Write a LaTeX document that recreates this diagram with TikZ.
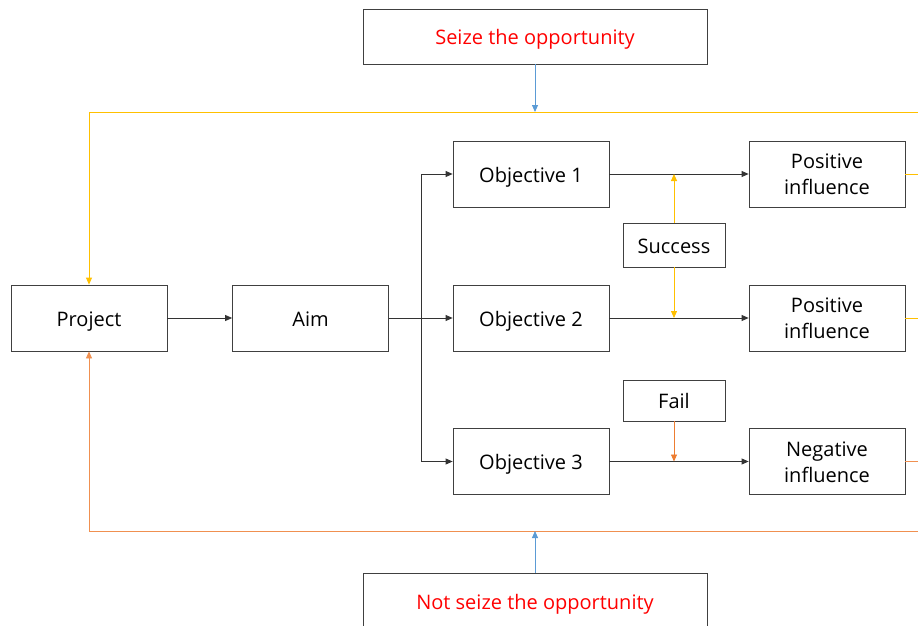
\documentclass[tikz,border=0pt]{standalone}
\usepackage{fontspec}
\setmainfont{Open Sans}
\usetikzlibrary{arrows.meta}
\definecolor{yel}{HTML}{FFC000}
\definecolor{org}{HTML}{ED7D31}
\definecolor{blu}{HTML}{5B9BD5}
\definecolor{bord}{HTML}{404040}
\definecolor{txtred}{HTML}{FF0000}
\newcommand{\twoline}[2]{\raisebox{0pt}[\dimexpr\height+5pt\relax][\depth]{\begin{tabular}{@{}c@{}}#1\\#2\end{tabular}}}
\begin{document}
\begin{tikzpicture}[x=1pt,y=-1pt,
  box/.style={draw=bord, line width=0.8pt, minimum width=156pt, minimum height=66pt, align=center, inner sep=0pt, font=\fontsize{20}{26}\selectfont},
  one/.style={text height=16.5pt, text depth=0pt},
  sbox/.style={box, one, minimum width=102pt},
  bigbox/.style={box, one, minimum width=344pt, text=txtred},
  tip/.style={-{Triangle[length=7pt,width=6pt]}},
  blk/.style={tip, draw=black!80, line width=0.8pt},
  yl/.style={draw=yel, line width=0.8pt},
  ol/.style={draw=org!85, line width=0.8pt},
  ]
\useasboundingbox (0,0) rectangle (918,626);
\node[box, one] (proj) at (89,318) {Project};
\node[box, one] (aim) at (310.5,318) {Aim};
\node[box, one] (o1) at (531,174) {Objective 1};
\node[box, one] (o2) at (531,318) {Objective 2};
\node[box, one] (o3) at (531,461.5) {Objective 3};
\node[box] (p1) at (827,174) {\twoline{Positive}{influence}};
\node[box] (p2) at (827,318) {\twoline{Positive}{influence}};
\node[box] (n3) at (827,461.5) {\twoline{Negative}{influence}};
\node[sbox, minimum height=44pt] (succ) at (674,245) {Success};
\node[sbox, minimum height=41pt] (fail) at (674,400.5) {Fail};
\node[bigbox, minimum height=55pt] (seize) at (535,36.5) {Seize the opportunity};
\node[bigbox, minimum height=56pt] (nseize) at (535,601) {Not seize the opportunity};
\coordinate (ytr) at (925,112);
\coordinate (otr) at (925,531);
\coordinate (br) at (421,318);
\coordinate (e1) at (925,174);
\coordinate (e2) at (925,318);
\coordinate (e3) at (925,461.5);
% feedback loops
\draw[yl, tip] (ytr) -| (proj.north);
\draw[ol, tip] (otr) -| (proj.south);
\draw[yl] (p1.east) -- (e1);
\draw[yl] (p2.east) -- (e2);
\draw[ol] (n3.east) -- (e3);
% blue arrows
\draw[tip, draw=blu, line width=0.8pt] (seize.south) -- (seize.south |- ytr);
\draw[tip, draw=blu, line width=0.8pt] (nseize.north) -- (nseize.north |- otr);
% main flow
\draw[blk] (proj) -- (aim);
\draw[blk] (aim) -- (o2);
\draw[blk] (br) |- (o1.west);
\draw[blk] (br) |- (o3.west);
\draw[blk] (o1) -- (p1);
\draw[blk] (o2) -- (p2);
\draw[blk] (o3) -- (n3);
% success / fail
\draw[tip, draw=yel, line width=0.8pt] (succ.north) -- (succ.north |- o1.east);
\draw[tip, draw=yel, line width=0.8pt] (succ.south) -- (succ.south |- o2.east);
\draw[tip, draw=org, line width=0.8pt] (fail.south) -- (fail.south |- o3.east);
\end{tikzpicture}
\end{document}
